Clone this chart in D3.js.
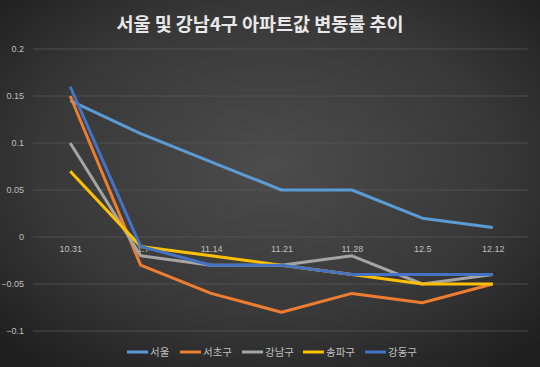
<!DOCTYPE html>
<html>
<head>
<meta charset="utf-8">
<script src="https://cdn.jsdelivr.net/npm/d3@7"></script>
<style>
  body { margin: 0; background: #2a2a2a; }
  svg { display: block; font-family: "Noto Sans CJK KR", "Noto Sans", sans-serif; }
</style>
</head>
<body>
<div id="chart"></div>
<script>
/** data */
const categories = ["10.31", "11.7", "11.14", "11.21", "11.28", "12.5", "12.12"];
const seriesNames = ["서울", "서초구", "강남구", "송파구", "강동구"];
const seoul = [0.145, 0.11, 0.08, 0.05, 0.05, 0.02, 0.01];
const seocho = [0.15, -0.03, -0.06, -0.08, -0.06, -0.07, -0.05];
const gangnam = [0.1, -0.02, -0.03, -0.03, -0.02, -0.05, -0.04];
const songpa = [0.07, -0.01, -0.02, -0.03, -0.04, -0.05, -0.05];
const gangdong = [0.16, -0.01, -0.03, -0.03, -0.04, -0.04, -0.04];
const yTicks = [0.2, 0.15, 0.1, 0.05, 0, -0.05, -0.1];
const colors = ["#5b9bd5", "#ed7d31", "#a5a5a5", "#ffc000", "#4472c4"];

const series = [seoul, seocho, gangnam, songpa, gangdong].map((values, i) => ({
  name: seriesNames[i],
  color: colors[i],
  data: values.map((v, j) => ({ cat: categories[j], value: v })),
}));

const width = 540, height = 367;
const margin = { top: 49, right: 12, bottom: 36, left: 35 };

const svg = d3.select("#chart").append("svg")
  .attr("width", width)
  .attr("height", height);

/** background gradient */
const defs = svg.append("defs");
const grad = defs.append("radialGradient")
  .attr("id", "bg")
  .attr("cx", "50%").attr("cy", "45%").attr("r", "70%");
grad.append("stop").attr("offset", "0%").attr("stop-color", "#4c4c4c");
grad.append("stop").attr("offset", "60%").attr("stop-color", "#383838");
grad.append("stop").attr("offset", "100%").attr("stop-color", "#1e1e1e");
svg.append("rect").attr("width", width).attr("height", height).attr("fill", "url(#bg)");

/** title */
svg.append("text")
  .attr("x", 260)
  .attr("y", 31)
  .attr("text-anchor", "middle")
  .attr("fill", "#e8e8e8")
  .attr("font-size", 18.5)
  .attr("font-weight", "bold")
  .text("서울 및 강남4구 아파트값 변동률 추이");

/** scales */
const x = d3.scalePoint()
  .domain(categories)
  .range([margin.left, width - margin.right])
  .padding(0.5);

const y = d3.scaleLinear()
  .domain([-0.1, 0.2])
  .range([height - margin.bottom, margin.top]);

/** gridlines */
svg.append("g")
  .selectAll("line")
  .data(yTicks)
  .join("line")
  .attr("x1", margin.left - 2)
  .attr("x2", width - margin.right)
  .attr("y1", (d) => y(d))
  .attr("y2", (d) => y(d))
  .attr("stroke", "#555")
  .attr("stroke-width", 0.8);

/** y axis labels */
const yAxis = d3.axisLeft(y).tickValues(yTicks).tickSize(0).tickPadding(6)
  .tickFormat((d) => d3.format("")(+d.toFixed(2)));
svg.append("g")
  .attr("transform", `translate(${margin.left - 5},0)`)
  .call(yAxis)
  .call((g) => g.select(".domain").remove())
  .call((g) => g.selectAll("text").attr("fill", "#bfbfbf").attr("font-size", 9));

/** x axis labels at zero line */
const xAxis = d3.axisBottom(x).tickSize(0).tickPadding(9);
svg.append("g")
  .attr("transform", `translate(0,${y(0)})`)
  .call(xAxis)
  .call((g) => g.select(".domain").remove())
  .call((g) => g.selectAll("text").attr("fill", "#bfbfbf").attr("font-size", 9));

/** lines */
const line = d3.line()
  .x((d) => x(d.cat))
  .y((d) => y(d.value));

for (const { data, color } of series)
  svg.append("path")
    .attr("d", line(data))
    .attr("fill", "none")
    .attr("stroke", color)
    .attr("stroke-width", 3)
    .attr("stroke-linejoin", "round");

/** legend */
const legendX = [127, 180, 242, 303, 365];
const legend = svg.append("g").attr("transform", `translate(0,${352})`);
series.forEach(({ name, color }, i) => {
  const g = legend.append("g").attr("transform", `translate(${legendX[i]},0)`);
  g.append("line")
    .attr("x1", 0).attr("x2", 21)
    .attr("stroke", color)
    .attr("stroke-width", 3);
  g.append("text")
    .attr("x", 23)
    .attr("dy", "0.35em")
    .attr("fill", "#bfbfbf")
    .attr("font-size", 10.5)
    .text(name);
});
</script>
</body>
</html>
